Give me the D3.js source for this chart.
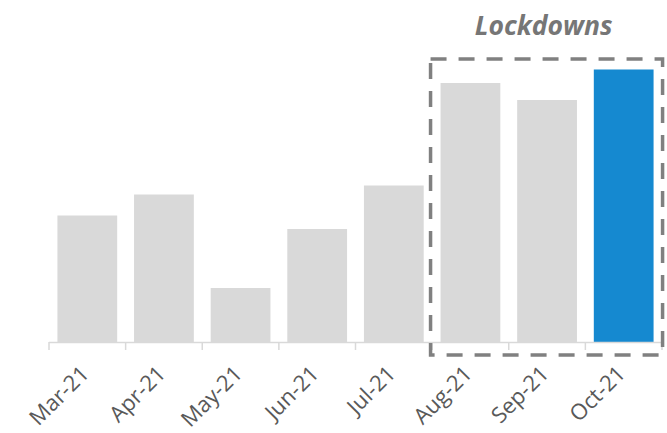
<!DOCTYPE html>
<html>
<head>
<meta charset="utf-8">
<script src="https://cdn.jsdelivr.net/npm/d3@7"></script>
<style>
  html, body { margin: 0; padding: 0; background: #fff; }
  svg { display: block; font-family: 'Open Sans', sans-serif; }
</style>
</head>
<body>
<div id="chart"></div>
<script>
// Data (arbitrary units)
const months = ['Mar-21', 'Apr-21', 'May-21', 'Jun-21', 'Jul-21', 'Aug-21', 'Sep-21', 'Oct-21'];
const values = [126.5, 147.5, 54, 113, 156.5, 259, 242, 272.5];
const lockdownMonths = ['Aug-21', 'Sep-21', 'Oct-21'];
const highlightMonth = 'Oct-21';
const annotation = 'Lockdowns';

const width = 667, height = 433;
const baseline = 342;

const svg = d3.select('#chart')
    .append('svg')
    .attr('width', width)
    .attr('height', height);

const x = d3.scaleBand()
    .domain(months)
    .range([49, 662])
    .paddingInner(0.22)
    .paddingOuter(0.11);

const y = d3.scaleLinear()
    .domain([0, 300])
    .range([baseline, baseline - 300]);

const data = months.map((m, i) => ({ month: m, value: values[i] }));

// Bars
svg.append('g')
    .selectAll('rect')
    .data(data)
    .join('rect')
    .attr('x', d => x(d.month))
    .attr('y', d => y(d.value))
    .attr('width', x.bandwidth())
    .attr('height', d => y(0) - y(d.value))
    .attr('fill', d => d.month === highlightMonth ? '#1589d0' : '#d9d9d9');

// Axis line + ticks at band boundaries
const axis = svg.append('g').attr('stroke', '#d9d9d9').attr('stroke-width', 1.5);
axis.append('line')
    .attr('x1', 49).attr('x2', 662)
    .attr('y1', baseline + 0.5).attr('y2', baseline + 0.5);
const boundaries = d3.range(months.length + 1).map(i => 49 + i * x.step());
axis.selectAll('line.tick')
    .data(boundaries)
    .join('line')
    .attr('class', 'tick')
    .attr('x1', d => d).attr('x2', d => d)
    .attr('y1', baseline).attr('y2', baseline + 8);

// Tick labels, rotated
svg.append('g')
    .selectAll('text')
    .data(months)
    .join('text')
    .attr('transform', d => `translate(${x(d) + x.bandwidth() / 2 + 3},${baseline + 33}) rotate(-45)`)
    .attr('text-anchor', 'end')
    .attr('font-size', 22)
    .attr('fill', '#595959')
    .text(d => d);

// Lockdown box
const first = lockdownMonths[0];
const last = lockdownMonths[lockdownMonths.length - 1];
const boxLeft = x(first) - 10;
const boxRight = x(last) + x.bandwidth() + 9;
svg.append('rect')
    .attr('x', boxLeft)
    .attr('y', 59)
    .attr('width', boxRight - boxLeft)
    .attr('height', 296)
    .attr('fill', 'none')
    .attr('stroke', '#808080')
    .attr('stroke-width', 3.5)
    .attr('stroke-dasharray', '16,12');

svg.append('text')
    .attr('x', (boxLeft + boxRight) / 2 - 3)
    .attr('y', 35)
    .attr('text-anchor', 'middle')
    .attr('font-size', 26.5)
    .attr('font-weight', 'bold')
    .attr('font-style', 'italic')
    .attr('fill', '#767676')
    .text(annotation);
</script>
</body>
</html>
